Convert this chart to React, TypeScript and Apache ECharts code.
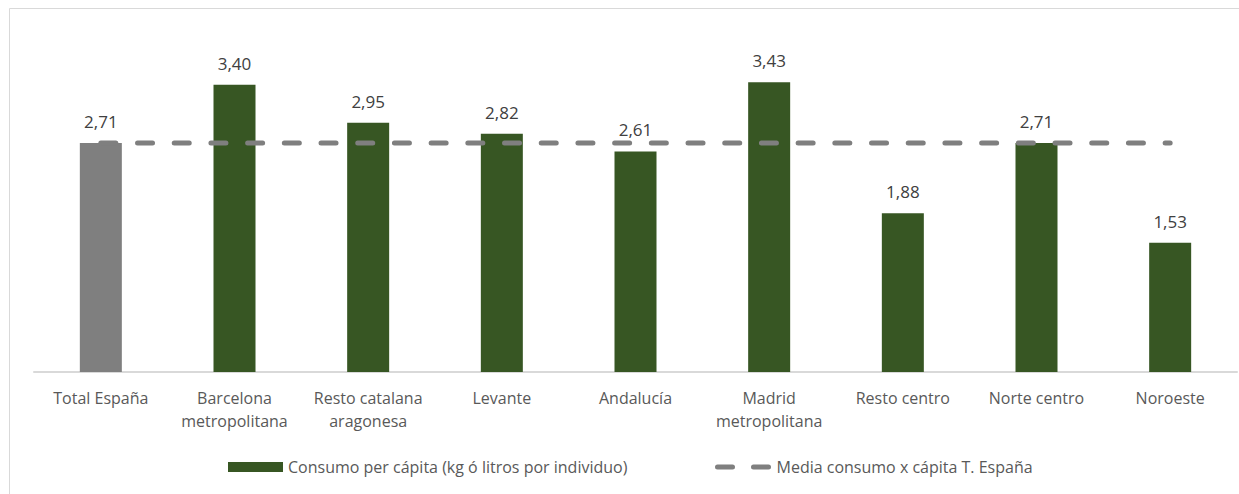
import React, { useEffect, useRef } from "react";
import * as echarts from "echarts";

const categories = [
  "Total España",
  "Barcelona\nmetropolitana",
  "Resto catalana\naragonesa",
  "Levante",
  "Andalucía",
  "Madrid\nmetropolitana",
  "Resto centro",
  "Norte centro",
  "Noroeste",
];
const consumo = [2.71, 3.4, 2.95, 2.82, 2.61, 3.43, 1.88, 2.71, 1.53];
const media = [2.71, 2.71, 2.71, 2.71, 2.71, 2.71, 2.71, 2.71, 2.71];
const serieConsumo = "Consumo per cápita (kg ó litros por individuo)";
const serieMedia = "Media consumo x cápita T. España";

const GREEN = "#375623";
const GRAY = "#7f7f7f";
const FONT = "'Open Sans', 'Noto Sans', sans-serif";

export default function App() {
  const ref = useRef<HTMLDivElement>(null);
  useEffect(() => {
    document.documentElement.style.overflow = "hidden";
    document.body.style.margin = "0";
    const chart = echarts.init(ref.current!, null, { renderer: "svg" });
    const legendText = { color: "#595959", fontSize: 16, fontFamily: FONT };
    chart.setOption({
      animation: false,
      textStyle: { fontFamily: FONT },
      graphic: [
        {
          type: "line",
          shape: { x1: 1.5, y1: 0.5, x2: 1400, y2: 0.5 },
          style: { stroke: "#d9d9d9", lineWidth: 1 },
          silent: true,
        },
        {
          type: "line",
          shape: { x1: 1.5, y1: 0.5, x2: 1.5, y2: 700 },
          style: { stroke: "#d9d9d9", lineWidth: 1 },
          silent: true,
        },
      ],
      grid: { left: 26, right: 2, top: 26, bottom: 122, containLabel: false },
      legend: [
        {
          left: 220,
          top: 451,
          itemWidth: 55,
          itemHeight: 10,
          padding: 0,
          textStyle: legendText,
          data: [{ name: serieConsumo, icon: "rect" }],
        },
        {
          left: 707,
          top: 451,
          itemWidth: 54,
          itemHeight: 10,
          padding: 0,
          textStyle: legendText,
          data: [
            {
              name: serieMedia,
              itemStyle: { opacity: 0 },
              lineStyle: { width: 5, type: [15, 21], cap: "round", color: GRAY },
            },
          ],
        },
      ],
      xAxis: {
        type: "category",
        data: categories,
        axisLine: { lineStyle: { color: "#d9d9d9", width: 2 } },
        axisTick: { show: false },
        axisLabel: {
          color: "#595959",
          fontSize: 16,
          lineHeight: 23,
          margin: 14,
          interval: 0,
          fontFamily: FONT,
        },
      },
      yAxis: {
        type: "value",
        min: 0,
        max: 4,
        show: false,
        splitLine: { show: false },
      },
      series: [
        {
          name: serieConsumo,
          type: "bar",
          barWidth: 42,
          itemStyle: { color: GREEN },
          data: consumo.map((v, i) =>
            i === 0 ? { value: v, itemStyle: { color: GRAY } } : v
          ),
          label: {
            show: true,
            position: "top",
            distance: 13,
            color: "#404040",
            fontSize: 17,
            fontFamily: FONT,
            formatter: (p: any) => Number(p.value).toFixed(2).replace(".", ","),
          },
          z: 2,
        },
        {
          name: serieMedia,
          type: "line",
          data: media,
          symbol: "none",
          itemStyle: { color: GRAY },
          lineStyle: {
            color: GRAY,
            width: 5,
            type: [15, 21.7],
            cap: "round",
          },
          z: 3,
        },
      ],
    });
    return () => chart.dispose();
  }, []);
  return (
    <div style={{ paddingLeft: 8, paddingTop: 8, width: 1231, height: 486 }}>
      <div ref={ref} style={{ width: 1231, height: 486 }} />
    </div>
  );
}
